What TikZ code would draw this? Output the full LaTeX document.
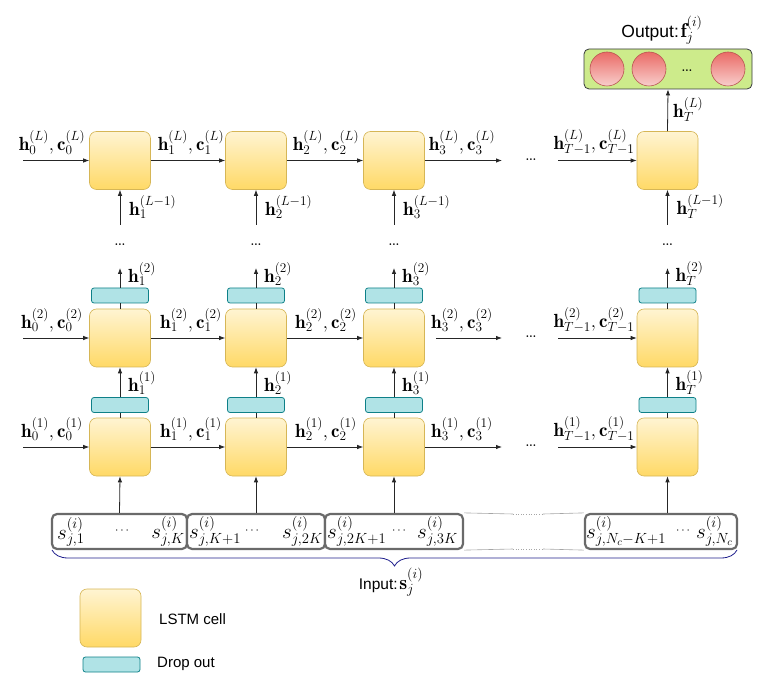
\RequirePackage{fix-cm}
\documentclass[tikz,border=0pt]{standalone}
\usepackage{fontspec}
\newfontfamily\arialf{Liberation Sans}
\usetikzlibrary{arrows.meta,decorations.pathreplacing}
\definecolor{cellTop}{HTML}{FFF4D2}
\definecolor{cellBot}{HTML}{FFD966}
\definecolor{cellLine}{HTML}{D6B656}
\definecolor{dropFill}{HTML}{B0E3E6}
\definecolor{dropLine}{HTML}{0E8088}
\definecolor{outFill}{HTML}{CDEB8B}
\definecolor{outLine}{HTML}{36393D}
\definecolor{neurTop}{HTML}{EA6B66}
\definecolor{neurBot}{HTML}{F8CECC}
\definecolor{neurLine}{HTML}{B85450}
\definecolor{boxLine}{HTML}{6A6A6A}
\definecolor{braceCol}{HTML}{1E1E8C}
\begin{document}
\begin{tikzpicture}[x=1pt,y=-1pt,
  lstm/.style={rectangle, rounded corners=7pt, minimum width=61pt, minimum height=58pt, draw=cellLine, line width=0.6pt, top color=cellTop, bottom color=cellBot, inner sep=0pt},
  drop/.style={rectangle, rounded corners=2.5pt, minimum width=57pt, minimum height=15pt, draw=dropLine, line width=0.8pt, fill=dropFill, inner sep=0pt},
  outbox/.style={rectangle, rounded corners=5pt, minimum width=168pt, minimum height=40pt, draw=outLine, line width=0.8pt, fill=outFill, inner sep=0pt},
  neur/.style={circle, minimum size=34pt, draw=neurLine, line width=0.6pt, top color=neurTop, bottom color=neurBot, inner sep=0pt},
  inbox/.style={rectangle, rounded corners=5pt, minimum height=35pt, draw=boxLine, line width=2.2pt, fill=white, inner sep=0pt},
  arr/.style={-{Latex[length=6pt,width=4.5pt]}, line width=0.8pt, draw=black!85},
  plain/.style={line width=0.8pt, draw=black!85},
  lbl/.style={font=\fontsize{19}{21}\selectfont, inner sep=0pt},
  slbl/.style={font=\fontsize{21}{23}\selectfont, inner sep=0pt},
  dotsn/.style={font=\fontsize{21}{23}\selectfont, inner sep=0pt},
  sdots/.style={font=\fontsize{12}{14}\selectfont, inner sep=0pt},
  sans/.style={font=\fontsize{15}{17}\selectfont\arialf, inner sep=0pt},
  thinl/.style={line width=0.6pt, draw=black!35}
]
\useasboundingbox (0,0) rectangle (774,684);

% cells, dropouts and vertical connections
\foreach \n/\x in {1/120,2/256,3/394,T/667.5} {
  \node[lstm] (cL\n) at (\x,160.5) {};
  \node[lstm] (c2\n) at (\x,338) {};
  \node[lstm] (c1\n) at (\x,447) {};
  \node[drop] (d2\n) at (\x,295.5) {};
  \node[drop] (d1\n) at (\x,405) {};
  \draw[plain] (c1\n.north) -- (d1\n.south);
  \draw[arr] (d1\n.north) -- (c2\n.south);
  \draw[plain] (c2\n.north) -- (d2\n.south);
  \coordinate (top\n) at (\x,268);
  \draw[arr] (d2\n.north) -- (top\n);
  \node[dotsn] (vd\n) at (\x,245) {\ldots};
  \coordinate (bot\n) at (\x,225);
  \draw[arr] (bot\n) -- (cL\n.south);
  \node[lbl,anchor=west] (lb2\n) at (\x+8,274) {$\mathbf{h}_{\n}^{(2)}$};
  \node[lbl,anchor=west] (lb1\n) at (\x+8,383) {$\mathbf{h}_{\n}^{(1)}$};
  \node[lbl,anchor=west] (lbL\n) at (\x+9,207) {$\mathbf{h}_{\n}^{(L-1)}$};
}

% horizontal connections
\foreach \r/\y/\g in {L/160.5/0,2/338/11,1/447/0} {
  \coordinate (a\r) at (23,\y);
  \coordinate (e\r) at (502,\y);
  \coordinate (s\r) at (558,\y);
  \draw[arr] (a\r) -- (c\r1.west);
  \draw[arr] (c\r1.east) -- (c\r2.west);
  \draw[arr] (c\r2.east) -- (c\r3.west);
  \draw[arr] ([xshift=\g pt]c\r3.east) -- (e\r);
  \node[dotsn] (hd\r) at (531,\y-1) {\ldots};
  \draw[arr] (s\r) -- (c\r T.west);
  \node[lbl] (rl0\r) at (52,\y-18) {$\mathbf{h}_0^{(\r)}, \mathbf{c}_0^{(\r)}$};
  \node[lbl] (rl1\r) at (191,\y-18) {$\mathbf{h}_1^{(\r)}, \mathbf{c}_1^{(\r)}$};
  \node[lbl] (rl2\r) at (326,\y-18) {$\mathbf{h}_2^{(\r)}, \mathbf{c}_2^{(\r)}$};
  \node[lbl] (rl3\r) at (462,\y-18) {$\mathbf{h}_3^{(\r)}, \mathbf{c}_3^{(\r)}$};
  \node[lbl] (rlT\r) at (594,\y-18) {$\mathbf{h}_{T-1}^{(\r)}{,}\,\mathbf{c}_{T-1}^{(\r)}$};
}

% output
\node[outbox] (out) at (668,69) {};
\node[neur] (n1) at (607,69) {};
\node[neur] (n2) at (649,69) {};
\node[neur] (n3) at (728,69) {};
\node[dotsn] (od) at (687,71) {\ldots};
\draw[arr] (cLT.north) -- (out.south);
\node[lbl,anchor=west] (outh) at (673,110) {$\mathbf{h}_T^{(L)}$};
\node[inner sep=0pt] (outlbl) at (662,30) {{\fontsize{17.5}{19}\selectfont\arialf Output:}\,{\fontsize{20}{22}\selectfont$\mathbf{f}_j^{(i)}$}};

% input boxes
\node[inbox, minimum width=135pt] (in1) at (119.5,531.5) {};
\node[inbox, minimum width=138pt] (in2) at (256,531.5) {};
\node[inbox, minimum width=138pt] (in3) at (394,531.5) {};
\node[inbox, minimum width=152pt] (inN) at (661,531.5) {};
\coordinate (g1) at (513,514);
\coordinate (g2) at (543,514);
\coordinate (g3) at (513,549);
\coordinate (g4) at (543,549);
\draw[thinl] (in3.north east) -- (g1);
\draw[thinl, dotted] (g1) -- (g2);
\draw[thinl] (g2) -- (inN.north west);
\draw[thinl] (in3.south east) -- (g3);
\draw[thinl, dotted] (g3) -- (g4);
\draw[thinl] (g4) -- (inN.south west);
\foreach \k in {1,2,3} {\draw[arr] (in\k.north) -- (c1\k.south);}
\draw[arr] (inN.north -| c1T) -- (c1T.south);

\node[slbl,anchor=west] (s11) at (57,531.5) {$s_{j,1}^{(i)}$};
\node[sdots] (sd1) at (122,531) {$\cdots$};
\node[slbl,anchor=east] (s12) at (185,531.5) {$s_{j,K}^{(i)}$};
\node[slbl,anchor=west] (s21) at (189,531.5) {$s_{j,K+1}^{(i)}$};
\node[sdots] (sd2) at (252,531) {$\cdots$};
\node[slbl,anchor=east] (s22) at (323,531.5) {$s_{j,2K}^{(i)}$};
\node[slbl,anchor=west] (s31) at (327,531.5) {$s_{j,2K+1}^{(i)}$};
\node[sdots] (sd3) at (399,531) {$\cdots$};
\node[slbl,anchor=east] (s32) at (458,531.5) {$s_{j,3K}^{(i)}$};
\node[slbl,anchor=west] (sN1) at (586,531.5) {$s_{j,N_c-K+1}^{(i)}$};
\node[sdots] (sdN) at (683,531) {$\cdots$};
\node[slbl,anchor=east] (sN2) at (733,531.5) {$s_{j,N_c}^{(i)}$};

\coordinate (b1) at (52,550);
\coordinate (b2) at (737,550);
\draw[braceCol, line width=0.8pt, decorate, decoration={brace, amplitude=16pt, mirror}] (b1) -- (b2);
\node[inner sep=0pt] (inlbl) at (391,582) {{\fontsize{15.5}{17}\selectfont\arialf Input:}\,{\fontsize{20}{22}\selectfont$\mathbf{s}_j^{(i)}$}};

% legend
\node[lstm] (legL) at (110.5,618) {};
\node[sans,anchor=west] (legLt) at (159,619) {LSTM cell};
\node[drop] (legD) at (111.5,664.5) {};
\node[sans,anchor=west] (legDt) at (157,664) {Drop out};
\end{tikzpicture}
\end{document}
